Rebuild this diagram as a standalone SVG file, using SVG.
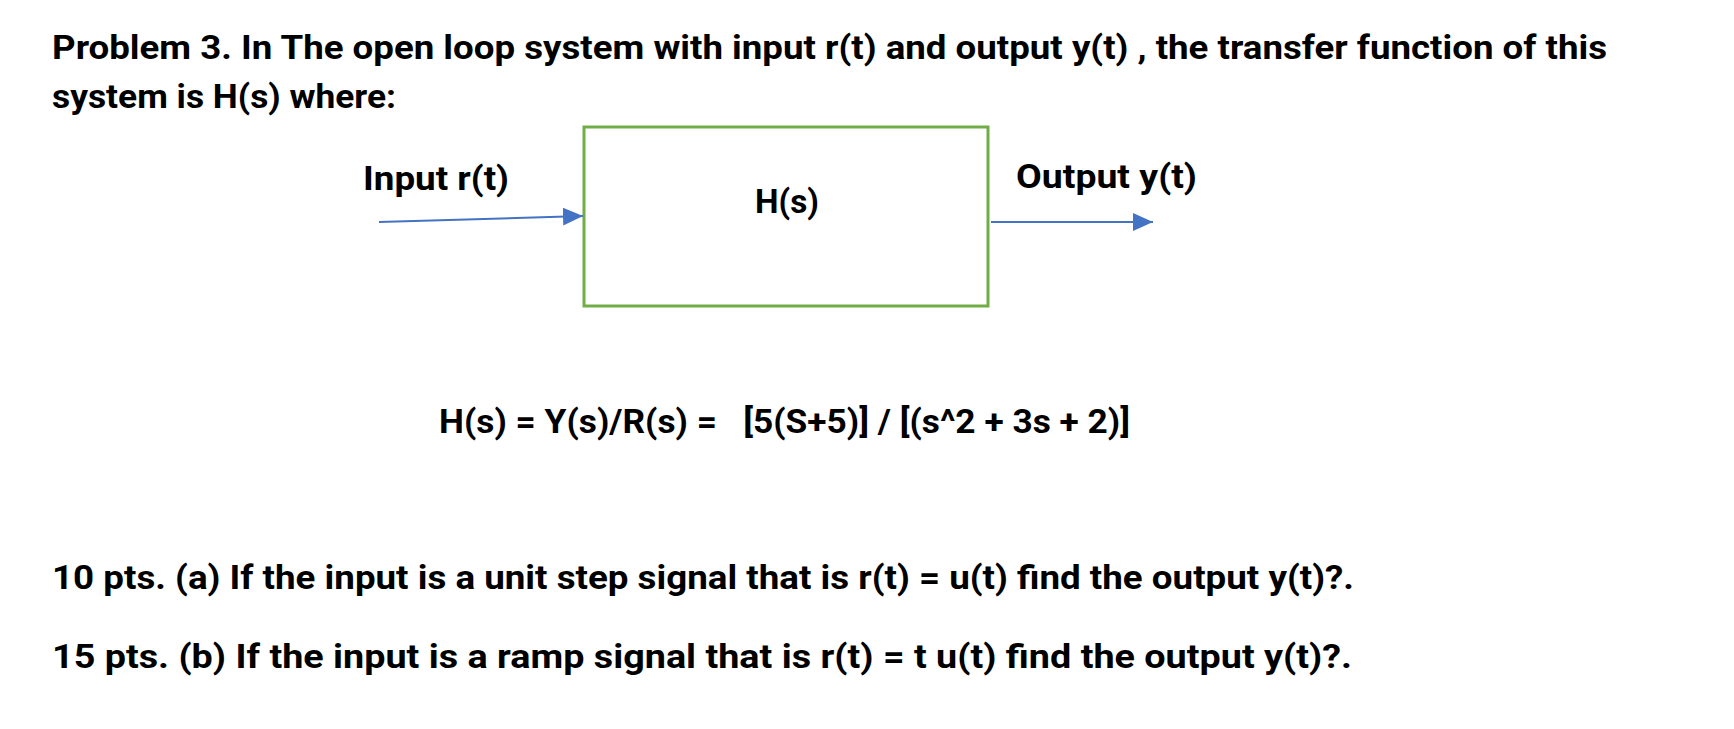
<svg xmlns="http://www.w3.org/2000/svg" width="1734" height="729" viewBox="0 0 1734 729">
<style>
.t{font-family:Roboto,"Open Sans","Liberation Sans",sans-serif;font-weight:700;fill:#000;font-size:33px}
.c{stroke:#4472C4;stroke-width:2;fill:none}
</style>
<defs>
<marker id="ah" viewBox="0 0 20 18" refX="20" refY="9" markerWidth="20" markerHeight="18" markerUnits="userSpaceOnUse" orient="auto"><path d="M0,0 L20,9 L0,18 z" fill="#4472C4"/></marker>
</defs>
<rect width="1734" height="729" fill="#fff"/>
<g id="title">
<text class="t" x="52" y="59" textLength="1555" lengthAdjust="spacingAndGlyphs">Problem 3. In The open loop system with input r(t) and output y(t) , the transfer function of this</text>
<text class="t" x="52" y="108" textLength="344" lengthAdjust="spacingAndGlyphs">system is H(s) where:</text>
</g>
<g id="block">
<rect x="584" y="127" width="404" height="179" fill="#fff" stroke="#70AD47" stroke-width="3"/>
<text class="t" x="755" y="213" textLength="64" lengthAdjust="spacingAndGlyphs">H(s)</text>
</g>
<g id="input-label"><text class="t" x="363" y="190" textLength="146" lengthAdjust="spacingAndGlyphs">Input r(t)</text></g>
<g id="output-label"><text class="t" x="1016" y="188" textLength="181" lengthAdjust="spacingAndGlyphs">Output y(t)</text></g>
<g id="connectors">
<line class="c" x1="379" y1="222" x2="583" y2="216" marker-end="url(#ah)"/>
<line class="c" x1="991" y1="222" x2="1153" y2="222" marker-end="url(#ah)"/>
</g>
<g id="formula"><text class="t" x="439" y="433" textLength="691" lengthAdjust="spacingAndGlyphs" xml:space="preserve">H(s) = Y(s)/R(s) =   [5(S+5)] / [(s^2 + 3s + 2)]</text></g>
<g id="questions">
<text class="t" x="52" y="589" textLength="1302" lengthAdjust="spacingAndGlyphs">10 pts. (a) If the input is a unit step signal that is r(t) = u(t) find the output y(t)?.</text>
<text class="t" x="52" y="668" textLength="1300" lengthAdjust="spacingAndGlyphs">15 pts. (b) If the input is a ramp signal that is r(t) = t u(t) find the output y(t)?.</text>
</g>
</svg>
